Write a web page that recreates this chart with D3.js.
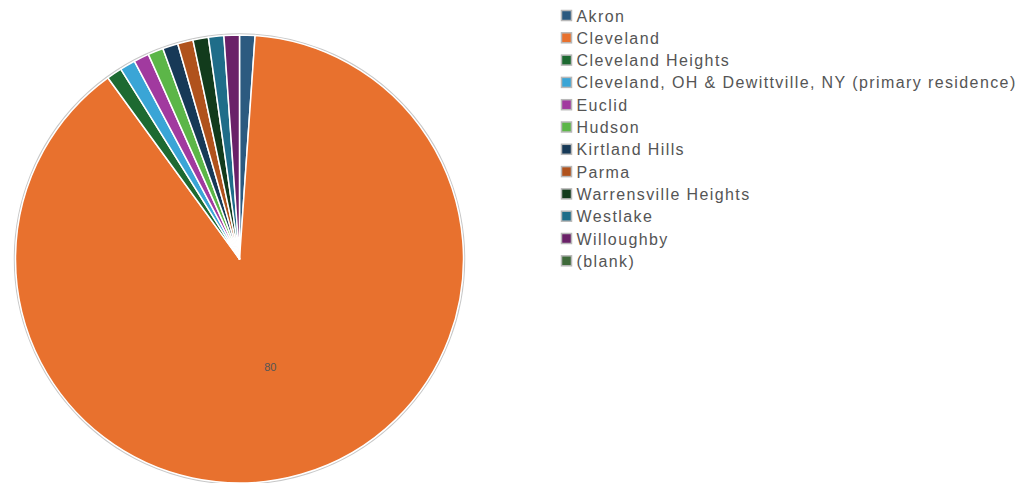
<!DOCTYPE html>
<html>
<head>
<meta charset="utf-8">
<script src="https://cdn.jsdelivr.net/npm/d3@7"></script>
<style>
  html, body { margin: 0; padding: 0; background: #fff; }
  svg { display: block; }
</style>
</head>
<body>
<div id="chart"></div>
<script>
var cities = ["Akron", "Cleveland", "Cleveland Heights", "Cleveland, OH & Dewittville, NY (primary residence)",
  "Euclid", "Hudson", "Kirtland Hills", "Parma", "Warrensville Heights", "Westlake", "Willoughby", "(blank)"];
var counts = [1, 80, 1, 1, 1, 1, 1, 1, 1, 1, 1, 0];
var colors = ["#2c5a80", "#e8712e", "#1d6a31", "#3aa5d6", "#a13a9f", "#5cb648", "#173957", "#b0521c",
  "#123b1c", "#1f6d89", "#6a2168", "#3f6a3a"];

var width = 1028, height = 483;
var cx = 239.5, cy = 259, radius = 224;

var svg = d3.select("#chart").append("svg")
  .attr("width", width)
  .attr("height", height);

var data = cities.map(function(c, i) {
  return { name: c, value: counts[i], color: colors[i] };
});

var pie = d3.pie()
  .sort(null)
  .value(function(d) { return d.value; });

var arc = d3.arc().innerRadius(0).outerRadius(radius);

var g = svg.append("g").attr("transform", "translate(" + cx + "," + cy + ")");

// faint grey rim round the pie
g.append("circle")
  .attr("r", radius + 1)
  .style("fill", "none")
  .style("stroke", "#c8c8c8")
  .style("stroke-width", 1.5);

var slices = pie(data).filter(function(d) { return d.value > 0; });

g.selectAll("path.slice")
  .data(slices)
  .enter().append("path")
  .attr("class", "slice")
  .attr("d", arc)
  .style("fill", function(d) { return d.data.color; })
  .style("stroke", "#fff")
  .style("stroke-width", 1.5)
  .style("stroke-linejoin", "round");

// only the big slice carries a value label
g.selectAll("text.val")
  .data(slices.filter(function(d) { return d.value >= 10; }))
  .enter().append("text")
  .attr("class", "val")
  .attr("transform", function(d) { return "translate(" + arc.centroid(d) + ")"; })
  .attr("text-anchor", "middle")
  .attr("dy", "0.35em")
  .style("font-family", "Liberation Sans, Arial, sans-serif")
  .style("font-size", "11px")
  .style("fill", "#555")
  .text(function(d) { return d.value; });

// legend
var legendY = d3.scaleBand()
  .domain(cities)
  .range([5, 5 + 22.3 * cities.length]);

var lg = svg.append("g").attr("transform", "translate(561,0)");

var item = lg.selectAll("g.item")
  .data(data)
  .enter().append("g")
  .attr("class", "item")
  .attr("transform", function(d) { return "translate(0," + legendY(d.name) + ")"; });

item.append("rect")
  .attr("x", 0.5)
  .attr("y", 5.5)
  .attr("width", 10)
  .attr("height", 10)
  .style("fill", function(d) { return d.color; })
  .style("stroke", "#b8b8b8")
  .style("stroke-width", 1.5);

item.append("text")
  .attr("x", 15.5)
  .attr("y", 16.5)
  .style("font-family", "Liberation Sans, Arial, sans-serif")
  .style("font-size", "16px")
  .style("letter-spacing", "1.4px")
  .style("fill", "#555")
  .text(function(d) { return d.name; });
</script>
</body>
</html>
